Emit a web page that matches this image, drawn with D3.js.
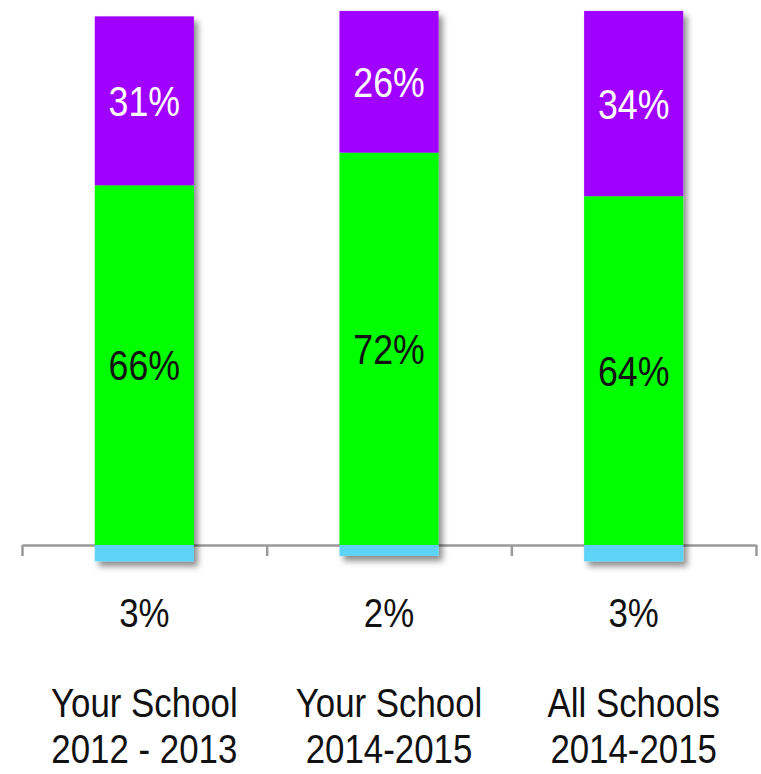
<!DOCTYPE html>
<html>
<head>
<meta charset="utf-8">
<script src="https://cdn.jsdelivr.net/npm/d3@7/dist/d3.min.js"></script>
<style>
  html, body { margin: 0; padding: 0; background: #fff; }
  svg { display: block; }
  text { font-family: "Liberation Sans", Helvetica, Arial, sans-serif; }
</style>
</head>
<body>
<svg id="chart" width="761" height="774"></svg>
<script>
// Survey groups and their share of responses per segment (%)
const categories = ["Your School|2012 - 2013", "Your School|2014-2015", "All Schools|2014-2015"];
const bottomShare = [3, 2, 3];     // below the baseline (blue)
const middleShare = [66, 72, 64];  // green
const topShare = [31, 26, 34];     // purple

const svg = d3.select("#chart");

const defs = svg.append("defs");
const f = defs.append("filter").attr("id", "shadow")
  .attr("x", "-20%").attr("y", "-10%").attr("width", "150%").attr("height", "130%");
f.append("feDropShadow").attr("dx", 4).attr("dy", 5).attr("stdDeviation", 3)
  .attr("flood-color", "#000").attr("flood-opacity", 0.45);

const left = 22, right = 756;
const x = d3.scaleBand().domain(categories).range([left, right]).paddingInner(0).paddingOuter(0);
const barW = x.bandwidth() * 0.405;
const y = d3.scaleLinear().domain([0, 100]).range([545, 0]);

// Axis along the baseline, ticks at group boundaries
const xEdge = d3.scaleLinear().domain([0, categories.length]).range([left, right]);
const axis = svg.append("g")
  .attr("transform", `translate(0,${y(0)})`)
  .call(d3.axisBottom(xEdge).tickValues(d3.range(categories.length + 1))
    .tickSize(11).tickSizeOuter(0).tickFormat(""));
axis.select(".domain").attr("stroke", "#9a9a9a").attr("stroke-width", 2.5);
axis.selectAll(".tick line").attr("stroke", "#9a9a9a").attr("stroke-width", 2.5);

const rows = categories.map((c, i) => ({
  c, b: bottomShare[i], m: middleShare[i], t: topShare[i]
}));

const bars = svg.append("g").selectAll("g.bar").data(rows).join("g")
  .attr("class", "bar")
  .attr("transform", d => `translate(${x(d.c) + (x.bandwidth() - barW) / 2},0)`);

const stack = bars.append("g").attr("filter", "url(#shadow)");
stack.append("rect").attr("x", 0).attr("width", barW)
  .attr("y", y(0)).attr("height", d => y(-d.b) - y(0)).attr("fill", "#5cd3f7");
stack.append("rect").attr("x", 0).attr("width", barW)
  .attr("y", d => y(d.m)).attr("height", d => y(0) - y(d.m)).attr("fill", "#00ff00");
stack.append("rect").attr("x", 0).attr("width", barW)
  .attr("y", d => y(d.m + d.t)).attr("height", d => y(d.m) - y(d.m + d.t)).attr("fill", "#a000ff");

// Narrow text helper: tall glyphs, compressed horizontally
function narrowText(sel, tx, ty, txt, color, size) {
  return sel.append("text")
    .attr("transform", d => `translate(${tx(d)},${ty(d)}) scale(0.85,1)`)
    .attr("text-anchor", "middle")
    .attr("font-size", size).attr("fill", color)
    .text(txt);
}

// Segment labels
narrowText(bars, () => barW / 2, d => (y(d.m) + y(d.m + d.t)) / 2, d => d.t + "%", "#fff", 42).attr("dy", "0.36em");
narrowText(bars, () => barW / 2, d => (y(0) + y(d.m)) / 2, d => d.m + "%", "#111", 42).attr("dy", "0.36em");

// Labels under the axis
const under = svg.append("g").selectAll("g").data(rows).join("g")
  .attr("transform", d => `translate(${x(d.c) + x.bandwidth() / 2},0)`);
narrowText(under, () => 0, () => 627, d => d.b + "%", "#111", 41);
narrowText(under, () => 0, () => 717, d => d.c.split("|")[0], "#111", 41);
narrowText(under, () => 0, () => 763, d => d.c.split("|")[1], "#111", 41);
</script>
</body>
</html>
